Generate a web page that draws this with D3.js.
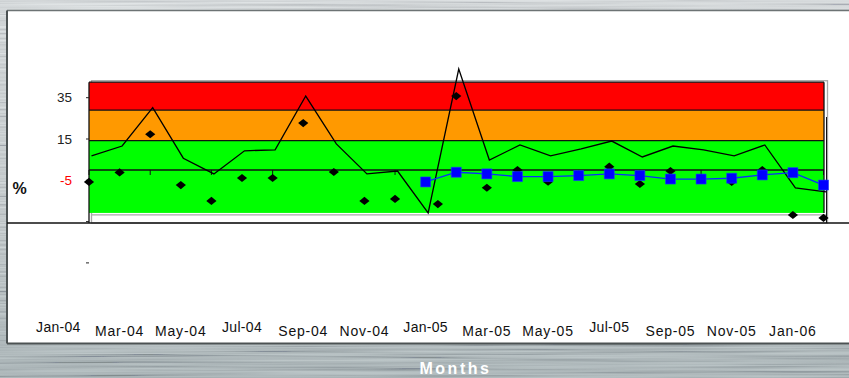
<!DOCTYPE html>
<html>
<head>
<meta charset="utf-8">
<script src="https://cdn.jsdelivr.net/npm/d3@7"></script>
<style>
  html, body { margin: 0; padding: 0; background: #c4ccce; }
  svg { display: block; }
  text { font-family: "Liberation Sans", Arial, sans-serif; }
</style>
</head>
<body>
<svg id="chart" width="849" height="378"></svg>
<script>
// Monthly categories, Jan 2004 to Jan 2006
const months = ["Jan-04","Feb-04","Mar-04","Apr-04","May-04","Jun-04","Jul-04","Aug-04","Sep-04","Oct-04","Nov-04","Dec-04",
                "Jan-05","Feb-05","Mar-05","Apr-05","May-05","Jun-05","Jul-05","Aug-05","Sep-05","Oct-05","Nov-05","Dec-05","Jan-06"];

// Labelled months on the category axis
const tickLabels = ["Jan-04","Mar-04","May-04","Jul-04","Sep-04","Nov-04","Jan-05","Mar-05","May-05","Jul-05","Sep-05","Nov-05","Jan-06"];

// Value axis ticks (%) and their printed labels
const yTicks = [35, 15, -5, -25, -45];
const yTickLabels = ["35", "15", "-5", "", ""];

// Threshold bands (%): green, orange, red
const bandEdges = [-20.8, 14.2, 29, 42.5];
const bandColors = ["#00ff00", "#ff9900", "#ff0000"];

// Monthly % series drawn as a plain line
const lineValues = [6.8, 11.6, 30.2, 5.7, -1.9, 9.3, 9.7, 35.8, 12.6, -1.9, -0.5, -20.8,
                    48.9, 4.8, 12.1, 6.8, 10.2, 14.0, 6.3, 11.6, 9.7, 6.8, 12.1, -8.7, -10.6];

// Monthly % series drawn as black diamonds (month position, value)
const diamondMonth = [0, 1, 2, 3, 4, 5, 6, 7, 8, 9, 10, 11.4, 12, 13, 14, 15, 16, 17, 18, 19, 20, 21, 22, 23, 24];
const diamondValues = [-5.8, -1.2, 17.3, -7.3, -15, -3.9, -3.9, 22.7, -1.0, -15, -14, -16.5,
                       35.8, -8.6, 0, -5.7, -2.9, 1.6, -6.8, -0.5, -4.0, -5.8, 0, -21.8, -23.2];

// Monthly % series drawn as blue squares, starting Dec-04
const squareValues = [null, null, null, null, null, null, null, null, null, null, null, -5.8,
                      -1.1, -1.9, -3.2, -3.2, -2.7, -1.9, -2.7, -4.4, -4.4, -4.0, -2.4, -1.3, -7.3];

const svg = d3.select("#chart");
const W = 849, H = 378;

// ---- brushed metal backdrop ----
const defs = svg.append("defs");
const bg = defs.append("linearGradient").attr("id", "metal").attr("x1", 0).attr("y1", 0).attr("x2", 0).attr("y2", 1);
bg.append("stop").attr("offset", "0%").attr("stop-color", "#d9dedf");
bg.append("stop").attr("offset", "60%").attr("stop-color", "#c4cccd");
bg.append("stop").attr("offset", "100%").attr("stop-color", "#a6b3b5");

const brush = defs.append("filter").attr("id", "brush").attr("x", 0).attr("y", 0).attr("width", 1).attr("height", 1);
brush.append("feTurbulence").attr("type", "fractalNoise").attr("baseFrequency", "0.004 0.45")
  .attr("numOctaves", 3).attr("seed", 7).attr("result", "n");
brush.append("feColorMatrix").attr("in", "n").attr("type", "matrix")
  .attr("values", "1.8 0 0 0 -0.4  1.8 0 0 0 -0.4  1.8 0 0 0 -0.37  0 0 0 0 0.22");

svg.append("rect").attr("width", W).attr("height", H).attr("fill", "url(#metal)");
svg.append("rect").attr("width", W).attr("height", H).attr("filter", "url(#brush)");

// ---- white chart panel ----
const panel = { x0: 7, y0: 10.5, y1: 343.5 };
svg.append("rect").attr("x", panel.x0).attr("y", panel.y0)
  .attr("width", W - panel.x0 + 2).attr("height", panel.y1 - panel.y0)
  .attr("fill", "#ffffff");
svg.append("line").attr("x1", panel.x0).attr("x2", W).attr("y1", panel.y0).attr("y2", panel.y0)
  .attr("stroke", "#6d7374").attr("stroke-width", 1.5);
svg.append("line").attr("x1", panel.x0).attr("x2", W).attr("y1", panel.y1).attr("y2", panel.y1)
  .attr("stroke", "#4c5253").attr("stroke-width", 2);
svg.append("line").attr("x1", panel.x0).attr("x2", panel.x0).attr("y1", panel.y0).attr("y2", panel.y1)
  .attr("stroke", "#4c5253").attr("stroke-width", 2);

// ---- scales ----
const y = d3.scaleLinear().domain([35, -45]).range([97.7, 262.9]);
const idx = d3.range(months.length);
const x = d3.scaleLinear().domain([0, months.length - 1]).range([89, 823.5]);
const xLine = d3.scaleLinear().domain([0, months.length - 1]).range([91.5, 826]);
const step = x(1) - x(0);

const plotL = x(0), plotR = x(months.length - 1) + 0.5;

// ---- plot frame shadow ----
const frame = svg.append("g").attr("fill", "none").attr("stroke", "#a8a8a8").attr("stroke-width", 1.3);
frame.append("rect").attr("x", plotL + 2.5).attr("y", y(bandEdges[3]) - 1.5)
  .attr("width", plotR + 3.5 - (plotL + 2.5)).attr("height", 223 - (y(bandEdges[3]) - 1.5));
frame.append("line").attr("x1", plotL + 2.5).attr("x2", plotR + 3.5)
  .attr("y1", y(bandEdges[0]) + 2).attr("y2", y(bandEdges[0]) + 2);

// ---- threshold bands ----
const bands = d3.range(bandColors.length).map(i => ({ lo: bandEdges[i], hi: bandEdges[i + 1], c: bandColors[i] }));
svg.append("g").selectAll("rect").data(bands).join("rect")
  .attr("x", plotL).attr("width", plotR - plotL)
  .attr("y", d => y(d.hi)).attr("height", d => y(d.lo) - y(d.hi))
  .attr("fill", d => d.c);

const bandLines = svg.append("g").attr("stroke", "#111").attr("stroke-width", 1.3);
bandLines.selectAll("line").data(bandEdges.slice(1)).join("line")
  .attr("x1", plotL).attr("x2", plotR).attr("y1", d => y(d)).attr("y2", d => y(d));
bandLines.append("line").attr("x1", plotR).attr("x2", plotR)
  .attr("y1", y(bandEdges[3])).attr("y2", y(bandEdges[0]));

// long baseline across the panel and right-hand rule
svg.append("line").attr("x1", panel.x0).attr("x2", W).attr("y1", 223).attr("y2", 223)
  .attr("stroke", "#111").attr("stroke-width", 1.3);
svg.append("line").attr("x1", plotR + 2.5).attr("x2", plotR + 2.5).attr("y1", 117).attr("y2", 223)
  .attr("stroke", "#111").attr("stroke-width", 1);

// ---- value axis ----
svg.append("line").attr("x1", plotL).attr("x2", plotL).attr("y1", y(bandEdges[3])).attr("y2", 223)
  .attr("stroke", "#111").attr("stroke-width", 1.3);
svg.append("g").selectAll("line").data(yTicks).join("line")
  .attr("x1", plotL - 3).attr("x2", plotL).attr("y1", d => y(d)).attr("y2", d => y(d))
  .attr("stroke", "#222").attr("stroke-width", 1);
svg.append("g").selectAll("text").data(yTicks.map((v, i) => ({ v, t: yTickLabels[i] })).filter(d => d.t)).join("text")
  .attr("x", 72).attr("y", d => y(d.v)).attr("dy", "0.35em")
  .attr("text-anchor", "end").attr("font-size", 13.5)
  .attr("fill", d => d.v < 0 ? "#ff0000" : "#222")
  .text(d => d.t);
svg.append("text").attr("x", 12.5).attr("y", 194).attr("font-size", 16).attr("font-weight", "bold")
  .attr("fill", "#111").text("%");

// ---- category axis on the zero line ----
svg.append("line").attr("x1", plotL).attr("x2", plotR).attr("y1", y(0)).attr("y2", y(0))
  .attr("stroke", "#111").attr("stroke-width", 1.5);
svg.append("g").selectAll("line").data(idx.filter(i => i % 2 === 0)).join("line")
  .attr("x1", d => x(d)).attr("x2", d => x(d)).attr("y1", y(0)).attr("y2", y(0) + 5)
  .attr("stroke", "#111").attr("stroke-width", 1);

// month labels along the bottom of the panel
svg.append("g").selectAll("text").data(tickLabels).join("text")
  .attr("x", d => x(months.indexOf(d)) - step)
  .attr("y", (d, i) => (i % 3 === 0 && i < tickLabels.length - 1) ? 332 : 336)
  .attr("text-anchor", "middle").attr("font-size", 14).attr("fill", "#111")
  .attr("letter-spacing", (d, i) => (i % 3 === 0 && i < tickLabels.length - 1) ? 0.3 : 0.8)
  .text(d => d);

svg.append("text").attr("x", 419.5).attr("y", 374).attr("font-size", 16).attr("font-weight", "bold")
  .attr("letter-spacing", 2.5).attr("fill", "#ffffff").text("Months");

// ---- series ----
const line = d3.line().x(d => xLine(d.i)).y(d => y(d.v));
svg.append("path").datum(lineValues.map((v, i) => ({ i, v })))
  .attr("d", line).attr("fill", "none").attr("stroke", "#000").attr("stroke-width", 1.3)
  .attr("stroke-linejoin", "miter");

const sqData = squareValues.map((v, i) => ({ i, v })).filter(d => d.v !== null);
svg.append("path").datum(sqData)
  .attr("d", d3.line().x(d => x(d.i)).y(d => y(d.v)))
  .attr("fill", "none").attr("stroke", "#0a2cff").attr("stroke-width", 1.3);

const diamond = d3.symbol(d3.symbolSquare, 52);
svg.append("g").selectAll("path").data(diamondValues.map((v, i) => ({ m: diamondMonth[i], v }))).join("path")
  .attr("d", diamond)
  .attr("transform", d => `translate(${x(d.m)},${y(d.v)}) scale(1,0.8) rotate(45)`)
  .attr("fill", "#000");

svg.append("g").selectAll("path").data(sqData).join("path")
  .attr("d", d3.symbol(d3.symbolSquare, 100))
  .attr("transform", d => `translate(${x(d.i)},${y(d.v)})`)
  .attr("fill", "#0000ff").attr("stroke", "#1a3aff").attr("stroke-width", 0.6);
</script>
</body>
</html>
